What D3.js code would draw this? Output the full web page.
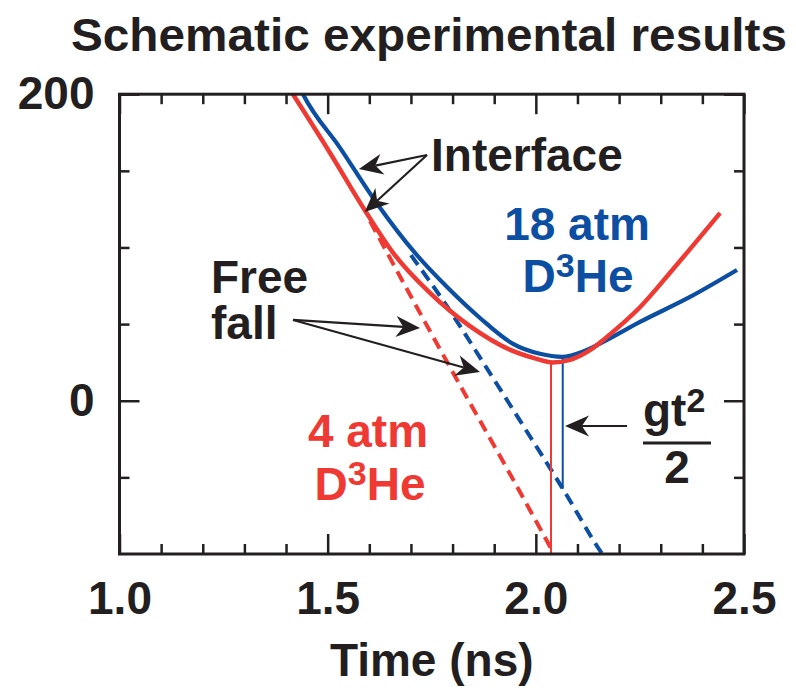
<!DOCTYPE html>
<html>
<head>
<meta charset="utf-8">
<script src="https://cdn.jsdelivr.net/npm/d3@7"></script>
<style>
  html, body { margin: 0; padding: 0; background: #ffffff; }
  svg { display: block; }
  text { font-family: "Liberation Sans", Arial, Helvetica, sans-serif; font-weight: bold; }
</style>
</head>
<body>
<div id="chart"></div>
<script>
// ---------------- data ----------------
const chartTitle = "Schematic experimental results";
const xAxisTitle = "Time (ns)";
const timeDomain = [1.0, 2.5];
const posDomain = [-100, 200];
const timeTicksMajor = [1.0, 1.5, 2.0, 2.5];
const timeTicksMinor = [1.1, 1.2, 1.3, 1.4, 1.6, 1.7, 1.8, 1.9, 2.1, 2.2, 2.3, 2.4];
const timeTickLabels = ["1.0", "1.5", "2.0", "2.5"];
const posTicksMajor = [0, 200];
const posTicksMinor = [-50, 50, 100, 150];
const posTickLabels = ["0", "200"];

// interface trajectories (time ns, position)
const interface4atm = [
  [1.40, 207], [1.505, 162], [1.59, 124], [1.66, 95.5], [1.745, 70.5], [1.84, 49],
  [1.94, 33], [2.00, 27.5], [2.04, 25], [2.08, 26.5], [2.13, 33], [2.17, 41.5],
  [2.25, 61], [2.33, 86], [2.4425, 122.5]
];
const interface18atm = [
  [1.43, 206], [1.4408, 200], [1.5297, 165], [1.621, 127.7], [1.7098, 96.4], [1.7867, 74.2],
  [1.8659, 54.0], [1.9452, 37.1], [2.01, 30.6], [2.0629, 28.6], [2.1181, 32.6],
  [2.171, 39.7], [2.2502, 51.4], [2.3703, 67.7], [2.4832, 85.3]
];
// free-fall trajectories
const freeFall4atm = [
  [1.6017, 117.2], [1.7338, 51.3], [1.8419, -1.5], [1.938, -47.8], [2.0413, -98.7], [2.046, -101]
];
const freeFall18atm = [
  [1.70, 95], [1.787, 61.5], [1.878, 23], [1.962, -13], [2.065, -57.5], [2.157, -99], [2.162, -101]
];
// gt^2/2 drops: [time, interface position, free-fall position]
const drop4atm = [2.0364, 25, -100];
const drop18atm = [2.0646, 28.6, -57.5];

// annotation anchors in data space: [fromT, fromV, toT, toV]
const interfaceArrows = [[1.7386, 160.3, 1.575, 151.2], [1.7386, 160.3, 1.589, 123.1]];
const freeFallArrows = [[1.4167, 52.7, 1.7218, 47.5], [1.4167, 52.7, 1.8659, 18.7]];
const gtArrow = [2.219, -16.5, 2.0701, -16.5];

// ---------------- layout ----------------
const W = 796, H = 688;
const plot = { left: 119.5, right: 744, top: 94.2, bottom: 554 };
const RED = "#ee3a33", BLUE = "#0b4ea2", INK = "#231f20";
const FS = 46;

const svg = d3.select("#chart").append("svg").attr("width", W).attr("height", H);

const x = d3.scaleLinear().domain(timeDomain).range([plot.left, plot.right]);
const y = d3.scaleLinear().domain(posDomain).range([plot.bottom, plot.top]);

svg.append("defs").append("clipPath").attr("id", "clip")
  .append("rect").attr("x", plot.left).attr("y", plot.top)
  .attr("width", plot.right - plot.left).attr("height", plot.bottom - plot.top);

// title
svg.append("text").attr("x", 71).attr("y", 51)
  .attr("font-size", 46).attr("fill", INK)
  .attr("textLength", 716).attr("lengthAdjust", "spacingAndGlyphs")
  .text(chartTitle);

// axes
function styleAxis(g) {
  g.select(".domain").remove();
  g.selectAll(".tick line").attr("stroke", INK).attr("stroke-width", 2.5);
  g.selectAll(".tick text").attr("fill", INK).attr("font-size", FS)
    .attr("font-family", '"Liberation Sans", Arial, sans-serif').attr("font-weight", "bold");
}
const fmtX = d => timeTickLabels[timeTicksMajor.indexOf(d)];
const fmtY = d => posTickLabels[posTicksMajor.indexOf(d)];

svg.append("g").attr("transform", `translate(0,${plot.bottom})`)
  .call(d3.axisBottom(x).tickValues(timeTicksMajor).tickSize(-20).tickPadding(27).tickFormat(fmtX)).call(styleAxis);
svg.append("g").attr("transform", `translate(0,${plot.bottom})`)
  .call(d3.axisBottom(x).tickValues(timeTicksMinor).tickSize(-10).tickFormat("")).call(styleAxis);
svg.append("g").attr("transform", `translate(0,${plot.top})`)
  .call(d3.axisTop(x).tickValues(timeTicksMajor).tickSize(-20).tickFormat("")).call(styleAxis);
svg.append("g").attr("transform", `translate(0,${plot.top})`)
  .call(d3.axisTop(x).tickValues(timeTicksMinor).tickSize(-10).tickFormat("")).call(styleAxis);
svg.append("g").attr("transform", `translate(${plot.left},0)`)
  .call(d3.axisLeft(y).tickValues(posTicksMajor).tickSize(-20).tickPadding(25).tickFormat(fmtY)).call(styleAxis);
svg.append("g").attr("transform", `translate(${plot.left},0)`)
  .call(d3.axisLeft(y).tickValues(posTicksMinor).tickSize(-10).tickFormat("")).call(styleAxis);
svg.append("g").attr("transform", `translate(${plot.right},0)`)
  .call(d3.axisRight(y).tickValues(posTicksMajor).tickSize(-20).tickFormat("")).call(styleAxis);
svg.append("g").attr("transform", `translate(${plot.right},0)`)
  .call(d3.axisRight(y).tickValues(posTicksMinor).tickSize(-10).tickFormat("")).call(styleAxis);

// x axis title
svg.append("text").attr("x", (plot.left + plot.right) / 2).attr("y", 676)
  .attr("text-anchor", "middle").attr("font-size", FS).attr("fill", INK).text(xAxisTitle);

// curves
const line = d3.line().x(d => x(d[0])).y(d => y(d[1])).curve(d3.curveMonotoneX);
const plotG = svg.append("g").attr("clip-path", "url(#clip)");

plotG.append("path").datum(freeFall4atm).attr("d", line)
  .attr("fill", "none").attr("stroke", RED).attr("stroke-width", 4).attr("stroke-dasharray", "12,7");
plotG.append("path").datum(freeFall18atm).attr("d", line)
  .attr("fill", "none").attr("stroke", BLUE).attr("stroke-width", 4).attr("stroke-dasharray", "12,7");

[[drop4atm, RED], [drop18atm, BLUE]].forEach(([d, c]) => {
  plotG.append("line").attr("x1", x(d[0])).attr("x2", x(d[0]))
    .attr("y1", y(d[1])).attr("y2", y(d[2])).attr("stroke", c).attr("stroke-width", 2);
});

plotG.append("path").datum(interface18atm).attr("d", line)
  .attr("fill", "none").attr("stroke", BLUE).attr("stroke-width", 4.2);
plotG.append("path").datum(interface4atm).attr("d", line)
  .attr("fill", "none").attr("stroke", RED).attr("stroke-width", 4.5);

// frame
svg.append("rect").attr("x", plot.left).attr("y", plot.top)
  .attr("width", plot.right - plot.left).attr("height", plot.bottom - plot.top)
  .attr("fill", "none").attr("stroke", INK).attr("stroke-width", 3);

// arrows
function arrow(a) {
  const x1 = x(a[0]), y1 = y(a[1]), x2 = x(a[2]), y2 = y(a[3]);
  const dx = x2 - x1, dy = y2 - y1, len = Math.hypot(dx, dy);
  const ux = dx / len, uy = dy / len, px = -uy, py = ux;
  const L = 24, Wd = 10.5, N = 0.7 * L;
  svg.append("line").attr("x1", x1).attr("y1", y1)
    .attr("x2", x2 - ux * N).attr("y2", y2 - uy * N)
    .attr("stroke", INK).attr("stroke-width", 2.2);
  const p = [
    [x2, y2],
    [x2 - ux * L + px * Wd, y2 - uy * L + py * Wd],
    [x2 - ux * N, y2 - uy * N],
    [x2 - ux * L - px * Wd, y2 - uy * L - py * Wd]
  ];
  svg.append("path").attr("d", "M" + p.map(q => q.join(",")).join("L") + "Z").attr("fill", INK);
}
interfaceArrows.forEach(arrow);
freeFallArrows.forEach(arrow);
arrow(gtArrow);

// labels
function label(txt, px, py, color, anchor) {
  return svg.append("text").attr("x", px).attr("y", py).attr("font-size", FS)
    .attr("fill", color).attr("text-anchor", anchor || "start").text(txt);
}
label("Interface", 431, 171, INK);
label("Free", 211, 293, INK);
label("fall", 211, 339, INK);
label("18 atm", 577, 240, BLUE, "middle");
label("4 atm", 368, 447, RED, "middle");

function dhe(px, py, color) {
  const t = svg.append("text").attr("x", px).attr("y", py).attr("font-size", FS)
    .attr("fill", color).attr("text-anchor", "middle");
  t.append("tspan").text("D");
  t.append("tspan").attr("font-size", 34).attr("dy", -15).text("3");
  t.append("tspan").attr("font-size", FS).attr("dy", 15).text("He");
}
dhe(578, 292, BLUE);
dhe(370, 500, RED);

// gt^2 / 2
const gt = svg.append("text").attr("x", 643).attr("y", 426).attr("font-size", FS).attr("fill", INK);
gt.append("tspan").text("gt");
gt.append("tspan").attr("font-size", 34).attr("dy", -14).text("2");
svg.append("line").attr("x1", 643).attr("x2", 711).attr("y1", 443).attr("y2", 443)
  .attr("stroke", INK).attr("stroke-width", 3);
label("2", 677, 483, INK, "middle");
</script>
</body>
</html>
